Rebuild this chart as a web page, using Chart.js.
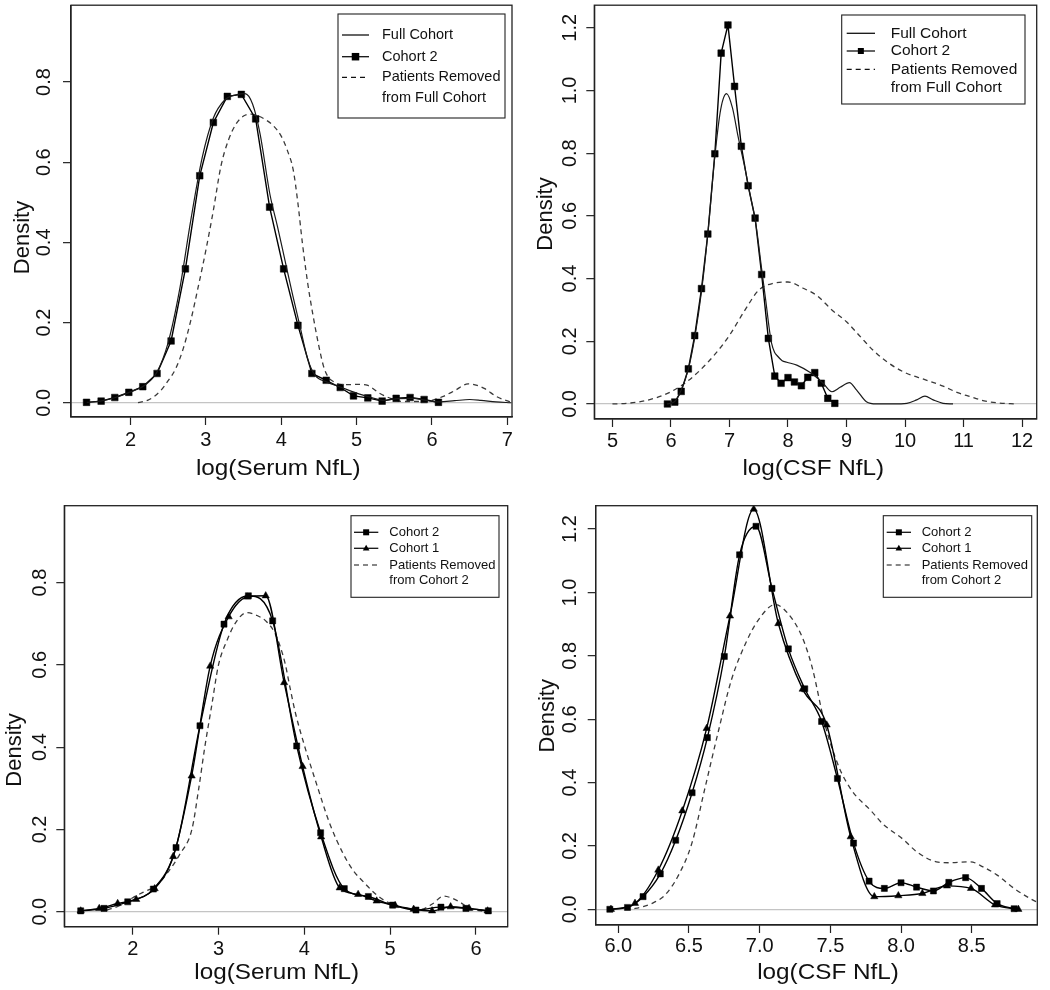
<!DOCTYPE html>
<html>
<head>
<meta charset="utf-8">
<script src="https://cdn.jsdelivr.net/npm/chart.js@4.4.1/dist/chart.umd.min.js"></script>
<style>
html,body{margin:0;padding:0;background:#fff;}
#wrap{position:relative;width:1050px;height:990px;overflow:hidden;background:#fff;}
.pn{position:absolute;}
canvas{display:block;}
</style>
</head>
<body>
<div id="wrap">
  <div class="pn" style="left:0;top:0;"><canvas id="p1" width="525" height="490"></canvas></div>
  <div class="pn" style="left:525px;top:0;"><canvas id="p2" width="525" height="490"></canvas></div>
  <div class="pn" style="left:0;top:490px;"><canvas id="p3" width="525" height="500"></canvas></div>
  <div class="pn" style="left:525px;top:490px;"><canvas id="p4" width="525" height="500"></canvas></div>
</div>
<script>
// ---------------- DATA ----------------
const xTitleSerum = 'log(Serum NfL)';
const xTitleCsf = 'log(CSF NfL)';
const yTitleText = 'Density';

// Top-left: serum, Full Cohort vs Cohort 2
const tlXTicks = [2, 3, 4, 5, 6, 7];
const tlYTicks = [0, 0.2, 0.4, 0.6, 0.8];
const tlFullCohort = [[1.42,0.001],[1.6,0.004],[1.8,0.013],[2.0,0.027],[2.2,0.045],[2.35,0.076],[2.5,0.15],[2.65,0.28],[2.8,0.455],[2.95,0.61],[3.1,0.71],[3.25,0.755],[3.4,0.768],[3.52,0.771],[3.62,0.745],[3.72,0.67],[3.85,0.52],[3.95,0.44],[4.05,0.355],[4.15,0.27],[4.25,0.19],[4.35,0.11],[4.45,0.068],[4.6,0.052],[4.8,0.038],[5.0,0.024],[5.2,0.013],[5.35,0.006],[5.55,0.01],[5.75,0.011],[5.95,0.005],[6.1,0.002],[6.3,0.005],[6.5,0.008],[6.65,0.006],[6.85,0.002],[7.05,0.0]];
const tlCohort2 = [[1.417,0.001],[1.611,0.004],[1.792,0.013],[1.978,0.026],[2.163,0.040],[2.353,0.073],[2.539,0.154],[2.729,0.334],[2.919,0.566],[3.100,0.699],[3.285,0.764],[3.471,0.769],[3.661,0.708],[3.846,0.488],[4.032,0.334],[4.222,0.193],[4.407,0.073],[4.597,0.056],[4.783,0.038],[4.959,0.017],[5.149,0.012],[5.339,0.004],[5.525,0.011],[5.710,0.013],[5.896,0.008],[6.086,0.001]];
const tlRemoved = [[2.1,0.0],[2.25,0.008],[2.4,0.03],[2.5,0.055],[2.6,0.085],[2.7,0.135],[2.8,0.205],[2.9,0.29],[3.0,0.38],[3.1,0.48],[3.2,0.59],[3.3,0.655],[3.4,0.695],[3.5,0.715],[3.6,0.72],[3.7,0.715],[3.8,0.705],[3.9,0.69],[4.0,0.665],[4.08,0.63],[4.16,0.58],[4.22,0.5],[4.28,0.4],[4.35,0.3],[4.42,0.22],[4.49,0.15],[4.56,0.092],[4.62,0.065],[4.7,0.052],[4.8,0.045],[4.9,0.045],[5.0,0.046],[5.15,0.043],[5.3,0.024],[5.45,0.011],[5.62,0.003],[5.8,0.003],[6.0,0.006],[6.15,0.016],[6.3,0.03],[6.48,0.047],[6.6,0.043],[6.7,0.035],[6.86,0.015],[7.04,0.002]];
const tlLegend = ['Full Cohort', 'Cohort 2', 'Patients Removed', 'from Full Cohort'];

// Top-right: CSF, Full Cohort vs Cohort 2
const trXTicks = [5, 6, 7, 8, 9, 10, 11, 12];
const trYTicks = [0, 0.2, 0.4, 0.6, 0.8, 1.0, 1.2];
const trFullCohort = [[5.93,0.0],[6.06,0.007],[6.17,0.042],[6.3,0.113],[6.41,0.216],[6.53,0.371],[6.63,0.543],[6.75,0.79],[6.85,0.94],[6.95,0.99],[7.05,0.945],[7.15,0.85],[7.25,0.765],[7.35,0.67],[7.45,0.575],[7.55,0.43],[7.62,0.33],[7.68,0.24],[7.72,0.193],[7.77,0.165],[7.81,0.155],[7.9,0.138],[7.98,0.133],[8.15,0.124],[8.38,0.1],[8.6,0.066],[8.75,0.039],[8.89,0.053],[9.05,0.068],[9.17,0.045],[9.34,0.007],[9.51,0.0],[9.8,0.0],[10.03,0.002],[10.2,0.013],[10.34,0.025],[10.48,0.013],[10.65,0.002],[10.82,0.0]];
const csfCohort2X = [5.94,6.065,6.175,6.297,6.406,6.522,6.63,6.75,6.858,6.974,7.087,7.203,7.319,7.438,7.55,7.664,7.774,7.882,8.0,8.11,8.229,8.338,8.457,8.569,8.68,8.8];
const csfCohort2Y = [0.0,0.006,0.04,0.112,0.218,0.368,0.542,0.798,1.119,1.209,1.013,0.822,0.696,0.593,0.413,0.209,0.089,0.066,0.084,0.07,0.058,0.085,0.1,0.066,0.018,0.002];
const trRemoved = [[5.0,0.0],[5.25,0.002],[5.5,0.008],[5.75,0.02],[6.0,0.039],[6.25,0.068],[6.5,0.108],[6.75,0.158],[7.0,0.219],[7.25,0.295],[7.5,0.363],[7.75,0.385],[8.0,0.389],[8.25,0.37],[8.5,0.345],[8.75,0.3],[9.0,0.262],[9.25,0.212],[9.45,0.172],[9.7,0.133],[10.0,0.1],[10.35,0.077],[10.65,0.057],[10.9,0.036],[11.1,0.024],[11.35,0.01],[11.6,0.003],[11.9,0.0]];
const trLegend = ['Full Cohort', 'Cohort 2', 'Patients Removed', 'from Full Cohort'];

// Bottom-left: serum, Cohort 2 vs Cohort 1
const blXTicks = [2, 3, 4, 5, 6];
const blYTicks = [0, 0.2, 0.4, 0.6, 0.8];
const blCohort2X = [1.394,1.666,1.942,2.241,2.505,2.784,3.064,3.348,3.631,3.911,4.19,4.466,4.746,5.029,5.301,5.592,5.883,6.144];
const blCohort2Y = [0.002,0.008,0.024,0.055,0.156,0.452,0.699,0.768,0.707,0.403,0.192,0.056,0.037,0.016,0.004,0.011,0.008,0.002];
const blCohort1X = [1.394,1.61,1.825,2.041,2.256,2.472,2.687,2.903,3.118,3.334,3.55,3.765,3.98,4.196,4.412,4.627,4.843,5.058,5.274,5.489,5.705,5.92,6.136];
const blCohort1Y = [0.002,0.008,0.02,0.03,0.056,0.134,0.33,0.597,0.717,0.765,0.768,0.557,0.353,0.182,0.058,0.042,0.026,0.015,0.006,0.002,0.012,0.008,0.002];
const blRemoved = [[1.7,0.004],[1.85,0.015],[2.0,0.034],[2.15,0.05],[2.27,0.062],[2.4,0.093],[2.55,0.14],[2.69,0.2],[2.77,0.3],[2.84,0.4],[2.92,0.5],[3.0,0.6],[3.1,0.66],[3.2,0.703],[3.33,0.727],[3.45,0.72],[3.56,0.705],[3.65,0.68],[3.72,0.644],[3.78,0.6],[3.83,0.548],[3.9,0.48],[4.0,0.405],[4.14,0.312],[4.3,0.212],[4.45,0.142],[4.57,0.1],[4.7,0.07],[4.84,0.041],[5.0,0.02],[5.15,0.01],[5.35,0.005],[5.5,0.02],[5.62,0.038],[5.72,0.033],[5.8,0.025],[5.93,0.008],[6.12,0.0]];
const blLegend = ['Cohort 2', 'Cohort 1', 'Patients Removed', 'from Cohort 2'];

// Bottom-right: CSF, Cohort 2 vs Cohort 1
const brXTicks = [6.0, 6.5, 7.0, 7.5, 8.0, 8.5];
const brYTicks = [0, 0.2, 0.4, 0.6, 0.8, 1.0, 1.2];
const brCohort1X = [5.948,6.118,6.283,6.453,6.625,6.79,6.958,7.132,7.304,7.474,7.644,7.811,7.981,8.151,8.325,8.495,8.665,8.83];
const brCohort1Y = [0.0,0.019,0.124,0.311,0.571,0.926,1.263,0.902,0.695,0.582,0.229,0.04,0.043,0.05,0.074,0.066,0.014,0.0];
const brRemoved = [[6.05,0.0],[6.12,0.003],[6.24,0.019],[6.33,0.045],[6.42,0.103],[6.52,0.208],[6.61,0.377],[6.71,0.566],[6.8,0.724],[6.9,0.839],[6.99,0.913],[7.11,0.962],[7.2,0.934],[7.3,0.86],[7.37,0.766],[7.46,0.587],[7.56,0.45],[7.65,0.376],[7.79,0.31],[7.87,0.27],[8.02,0.219],[8.11,0.182],[8.25,0.15],[8.35,0.147],[8.49,0.15],[8.58,0.134],[8.68,0.108],[8.8,0.066],[8.91,0.035],[8.98,0.019]];
const brLegend = ['Cohort 2', 'Cohort 1', 'Patients Removed', 'from Cohort 2'];

// ---------------- RENDERING ----------------
const FONT = '"Liberation Sans", Arial, Helvetica, sans-serif';
Chart.defaults.font.family = FONT;
Chart.defaults.color = '#111';

const pairs = arr => arr.map(p => ({x: p[0], y: p[1]}));
const zip = (xs, ys) => xs.map((x, i) => ({x: x, y: ys[i]}));

function dsFull(label, data) {
  return {label, data, borderColor: '#1a1a1a', borderWidth: 1.2, pointRadius: 0,
    cubicInterpolationMode: 'monotone', fill: false};
}
function dsRemoved(label, data) {
  return {label, data, borderColor: '#3a3a3a', borderWidth: 1.3, borderDash: [5, 4],
    pointRadius: 0, cubicInterpolationMode: 'monotone', fill: false};
}
function dsMarked(label, data, style, r, smooth) {
  const d = {label, data, borderColor: '#000', borderWidth: 1.4, pointStyle: style,
    pointRadius: r, pointBackgroundColor: '#000', pointBorderColor: '#000', pointBorderWidth: 0.5, fill: false};
  if (smooth) d.cubicInterpolationMode = 'monotone'; else d.tension = 0;
  return d;
}

function decor(p) {
  return {
    id: 'decor_' + p.id,
    afterDraw(chart) {
      const ctx = chart.ctx, a = chart.chartArea;
      ctx.save();
      // plot frame (top and right sides complete the box)
      ctx.strokeStyle = '#222'; ctx.lineWidth = 1.3;
      ctx.strokeRect(a.left, a.top, a.right - a.left, a.bottom - a.top);
      // legend
      const L = p.legend;
      ctx.lineWidth = 1.1; ctx.strokeStyle = '#222';
      ctx.fillStyle = '#fff';
      ctx.fillRect(L.box[0], L.box[1], L.box[2] - L.box[0], L.box[3] - L.box[1]);
      ctx.strokeRect(L.box[0], L.box[1], L.box[2] - L.box[0], L.box[3] - L.box[1]);
      ctx.font = L.size + 'px ' + FONT;
      ctx.textBaseline = 'middle'; ctx.textAlign = 'left';
      L.texts.forEach((t, i) => {
        const y = L.ys[i], k = L.kinds[i];
        ctx.strokeStyle = '#111'; ctx.fillStyle = '#000';
        if (k) {
          ctx.beginPath();
          ctx.lineWidth = k === 'dash' ? 1.2 : 1.3;
          ctx.setLineDash(k === 'dash' ? [5, 4] : []);
          ctx.moveTo(L.sx[0], y); ctx.lineTo(L.sx[1], y); ctx.stroke();
          ctx.setLineDash([]);
          const cx = (L.sx[0] + L.sx[1]) / 2, s = L.mark;
          if (k === 'rect') { ctx.fillRect(cx - s / 2, y - s / 2, s, s); }
          if (k === 'tri') {
            ctx.beginPath();
            ctx.moveTo(cx, y - s * 0.6); ctx.lineTo(cx + s * 0.55, y + s * 0.35); ctx.lineTo(cx - s * 0.55, y + s * 0.35);
            ctx.closePath(); ctx.fill();
          }
        }
        ctx.fillStyle = '#111';
        ctx.fillText(t, L.tx, y);
      });
      // axis titles
      const T = p.titles;
      ctx.fillStyle = '#111';
      ctx.save();
      ctx.translate(T.xx, T.xy); ctx.scale(T.xs, 1);
      ctx.font = T.xsize + 'px ' + FONT; ctx.textAlign = 'center'; ctx.textBaseline = 'alphabetic';
      ctx.fillText(T.xtext, 0, 0);
      ctx.restore();
      ctx.save();
      ctx.translate(T.yx, T.yy); ctx.rotate(-Math.PI / 2);
      ctx.font = T.ysize + 'px ' + FONT; ctx.textAlign = 'center'; ctx.textBaseline = 'middle';
      ctx.fillText(T.ytext, 0, 0);
      ctx.restore();
      ctx.restore();
    }
  };
}

function build(p) {
  const W = p.W, H = p.H, A = p.area;
  const tickFont = {family: FONT, size: 20};
  const cfg = {
    type: 'line',
    data: {datasets: p.datasets},
    options: {
      responsive: false, animation: false, events: [],
      layout: {padding: {left: 0, top: A.t, right: W - A.r, bottom: 0}},
      plugins: {legend: {display: false}, tooltip: {enabled: false}, title: {display: false}},
      scales: {
        x: {
          type: 'linear', position: 'bottom', min: p.x.min, max: p.x.max,
          afterBuildTicks: s => { s.ticks = p.x.ticks.map(v => ({value: v})); },
          afterFit: s => { s.height = H - A.b; s.paddingLeft = 0; s.paddingRight = 0; },
          ticks: {font: tickFont, color: '#111', padding: p.xLabPad, autoSkip: false,
            maxRotation: 0, minRotation: 0, callback: v => p.x.fmt(v)},
          grid: {drawOnChartArea: false, drawTicks: true, tickLength: 8, tickColor: '#222', tickWidth: 1.2},
          border: {display: true, color: '#222', width: 1.3},
          title: {display: false}
        },
        y: {
          type: 'linear', position: 'left', min: p.y.min, max: p.y.max,
          afterBuildTicks: s => { s.ticks = p.y.ticks.map(v => ({value: v})); },
          afterFit: s => { s.width = A.l; s.paddingTop = 0; s.paddingBottom = 0; },
          ticks: {font: tickFont, color: '#111', padding: p.yLabPad, autoSkip: false,
            minRotation: 90, maxRotation: 90, crossAlign: 'center', callback: v => Number(v).toFixed(1)},
          grid: {drawOnChartArea: true, drawTicks: true, tickLength: 8, tickColor: '#222', tickWidth: 1.2,
            lineWidth: 1.3, color: c => (c.tick && Math.abs(c.tick.value) < 1e-9) ? '#c4c4c4' : 'rgba(0,0,0,0)'},
          border: {display: true, color: '#222', width: 1.3},
          title: {display: false}
        }
      }
    },
    plugins: [decor(p)]
  };
  return new Chart(document.getElementById(p.id), cfg);
}

const intFmt = v => String(Math.round(v));
const oneFmt = v => Number(v).toFixed(1);

// Top-left
build({
  id: 'p1', W: 525, H: 490, area: {l: 71, t: 4, r: 512, b: 417},
  x: {min: 1.211, max: 7.062, ticks: tlXTicks, fmt: intFmt},
  y: {min: -0.0356, max: 0.9915, ticks: tlYTicks},
  xLabPad: 3, yLabPad: 4.4,
  datasets: [
    dsFull(tlLegend[0], pairs(tlFullCohort)),
    dsMarked(tlLegend[1], pairs(tlCohort2), 'rect', 4.7, false),
    dsRemoved(tlLegend[2], pairs(tlRemoved))
  ],
  legend: {box: [338, 14, 505, 118], sx: [342, 369], tx: 382, ys: [35, 56.7, 77.3, 98.3], size: 14.5,
    mark: 7.5, texts: tlLegend, kinds: ['line', 'rect', 'dash', null]},
  titles: {xtext: xTitleSerum, xx: 278.3, xy: 475, xs: 1.13, xsize: 21.5,
    ytext: yTitleText, yx: 23.3, yy: 237.5, ysize: 22}
});

// Top-right
build({
  id: 'p2', W: 525, H: 490, area: {l: 69.3, t: 4, r: 511.7, b: 419},
  x: {min: 4.69, max: 12.25, ticks: trXTicks, fmt: intFmt},
  y: {min: -0.048, max: 1.272, ticks: trYTicks},
  xLabPad: 2.7, yLabPad: 2.4,
  datasets: [
    dsFull(trLegend[0], pairs(trFullCohort)),
    dsMarked(trLegend[1], zip(csfCohort2X, csfCohort2Y), 'rect', 4.7, false),
    dsRemoved(trLegend[2], pairs(trRemoved))
  ],
  legend: {box: [316.7, 15, 500, 104], sx: [321.7, 350], tx: 365.7, ys: [33.3, 51, 69.3, 87.3], size: 15.5,
    mark: 6, texts: trLegend, kinds: ['line', 'rect', 'dash', null]},
  titles: {xtext: xTitleCsf, xx: 288.3, xy: 475, xs: 1.13, xsize: 21.5,
    ytext: yTitleText, yx: 20.8, yy: 214, ysize: 22}
});

// Bottom-left
build({
  id: 'p3', W: 525, H: 500, area: {l: 64.3, t: 15.7, r: 507.7, b: 436.7},
  x: {min: 1.203, max: 6.37, ticks: blXTicks, fmt: intFmt},
  y: {min: -0.0365, max: 0.987, ticks: blYTicks},
  xLabPad: 2.5, yLabPad: 1.6,
  datasets: [
    dsMarked(blLegend[0], zip(blCohort2X, blCohort2Y), 'rect', 4.3, true),
    dsMarked(blLegend[1], zip(blCohort1X, blCohort1Y), 'triangle', 4.2, true),
    dsRemoved(blLegend[2], pairs(blRemoved))
  ],
  legend: {box: [351, 25.7, 499, 107.3], sx: [354, 378.3], tx: 389.3, ys: [42.3, 58.3, 75, 90.7], size: 13,
    mark: 6, texts: blLegend, kinds: ['rect', 'tri', 'dash', null]},
  titles: {xtext: xTitleSerum, xx: 276.7, xy: 488.5, xs: 1.13, xsize: 21.5,
    ytext: yTitleText, yx: 15, yy: 260, ysize: 22}
});

// Bottom-right
build({
  id: 'p4', W: 525, H: 500, area: {l: 70.7, t: 15.7, r: 512.3, b: 435},
  x: {min: 5.84, max: 8.964, ticks: brXTicks, fmt: oneFmt},
  y: {min: -0.0495, max: 1.274, ticks: brYTicks},
  xLabPad: 1.7, yLabPad: 3.0,
  datasets: [
    dsMarked(brLegend[0], zip(csfCohort2X, csfCohort2Y), 'rect', 4.3, true),
    dsMarked(brLegend[1], zip(brCohort1X, brCohort1Y), 'triangle', 4.2, true),
    dsRemoved(brLegend[2], pairs(brRemoved))
  ],
  legend: {box: [358.3, 25.7, 506.7, 107.3], sx: [361.7, 386], tx: 396.7, ys: [42.3, 58.3, 75, 90.7], size: 13,
    mark: 6, texts: brLegend, kinds: ['rect', 'tri', 'dash', null]},
  titles: {xtext: xTitleCsf, xx: 303, xy: 489, xs: 1.13, xsize: 21.5,
    ytext: yTitleText, yx: 23.3, yy: 225.8, ysize: 22}
});
</script>
</body>
</html>
